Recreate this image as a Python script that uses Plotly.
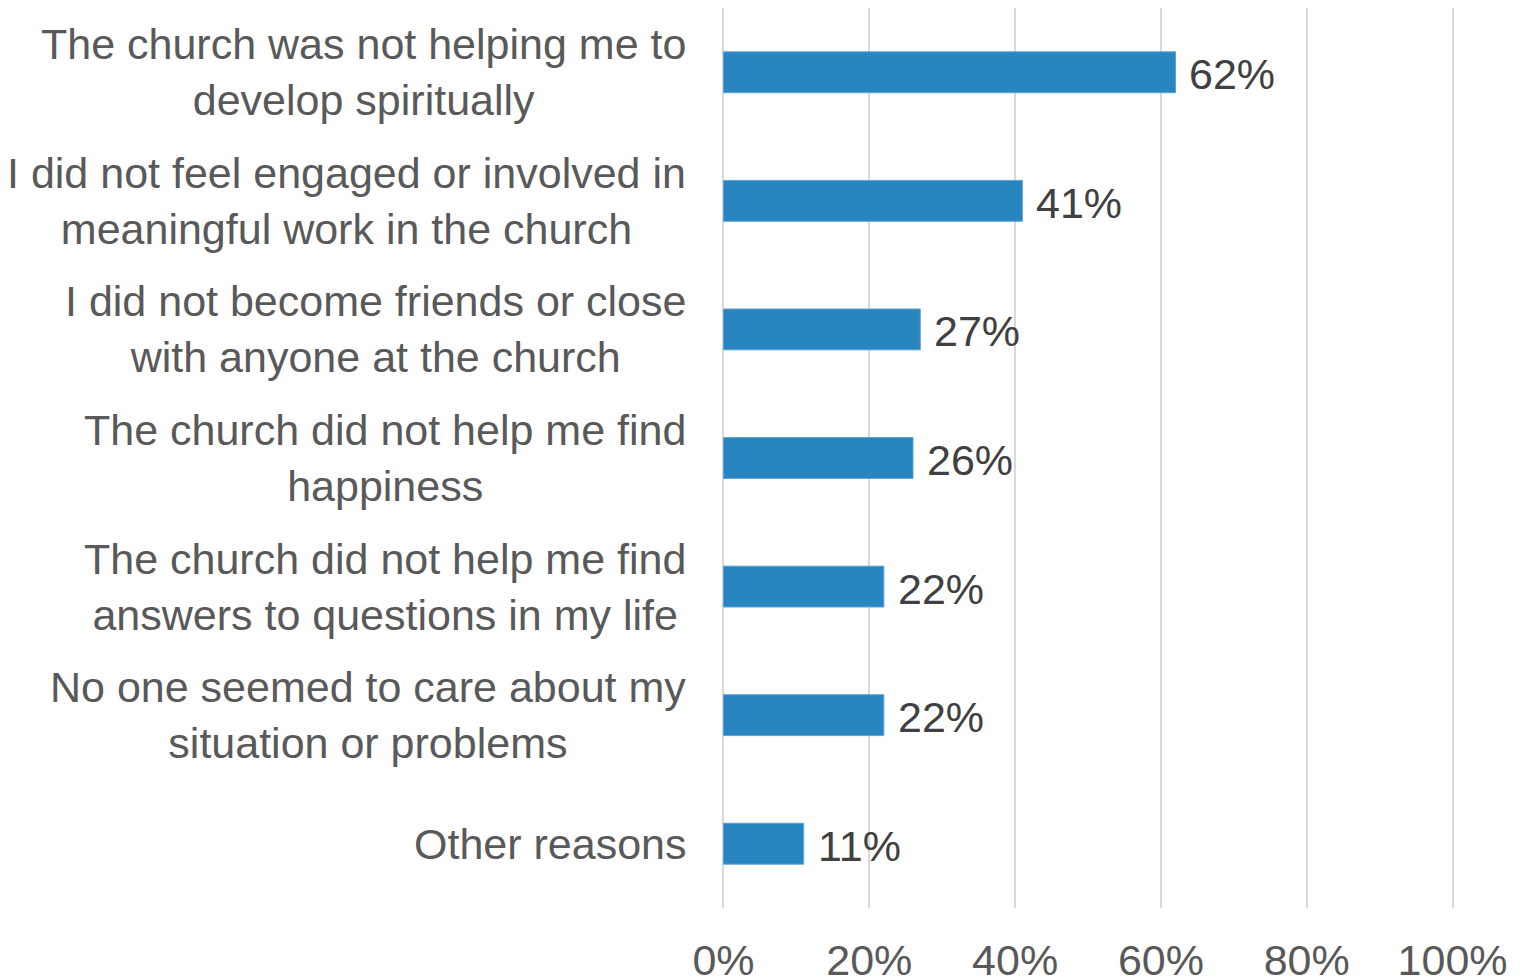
import plotly.graph_objects as go

categories = [
    "The church was not helping me to<br>develop spiritually",
    "I did not feel engaged or involved in<br>meaningful work in the church",
    "I did not become friends or close<br>with anyone at the church",
    "The church did not help me find<br>happiness",
    "The church did not help me find<br>answers to questions in my life",
    "No one seemed to care about my<br>situation or problems",
    "Other reasons",
]
values = [0.62, 0.41, 0.27, 0.26, 0.22, 0.22, 0.11]
value_labels = ["62%", "41%", "27%", "26%", "22%", "22%", "11%"]
tick_vals = [0, 0.2, 0.4, 0.6, 0.8, 1.0]
tick_text = ["0%", "20%", "40%", "60%", "80%", "100%"]

FONT = "Liberation Sans, Arial, sans-serif"
BAR = "#2785C0"

fig = go.Figure()
fig.add_trace(go.Bar(
    x=values, y=categories, orientation="h",
    marker=dict(color=BAR, line=dict(color="#5FA3D3", width=1)),
    hoverinfo="skip",
))

annotations = []
for cat in categories:
    annotations.append(dict(
        x=-0.0505, xref="paper", y=cat, yref="y", xshift=3,
        text=cat, showarrow=False, xanchor="right", yanchor="middle",
        align="center", font=dict(family=FONT, size=43, color="#595959"),
    ))
for cat, v, lab in zip(categories, values, value_labels):
    annotations.append(dict(
        x=v, xref="x", y=cat, yref="y", text=lab, showarrow=False,
        xanchor="left", yanchor="middle", xshift=12, yshift=-2,
        font=dict(family=FONT, size=43, color="#404040"),
    ))

fig.update_layout(
    width=1512, height=969,
    margin=dict(l=714, r=66, t=0, b=69, autoexpand=False),
    paper_bgcolor="white", plot_bgcolor="white",
    bargap=0.682,
    showlegend=False,
    annotations=annotations,
    font=dict(family=FONT),
    xaxis=dict(
        range=[-0.002, 1.002], tickvals=tick_vals, ticktext=tick_text,
        showgrid=True, gridcolor="#D9D9D9", gridwidth=2,
        zeroline=False, showline=False, automargin=False,
        ticks="outside", ticklen=0, ticklabelstandoff=14,
        tickfont=dict(family=FONT, size=43, color="#595959"),
    ),
    yaxis=dict(
        autorange="reversed", showticklabels=False, showgrid=False,
        zeroline=False, showline=False, ticks="", automargin=False,
    ),
)

fig.write_html("out.html")
